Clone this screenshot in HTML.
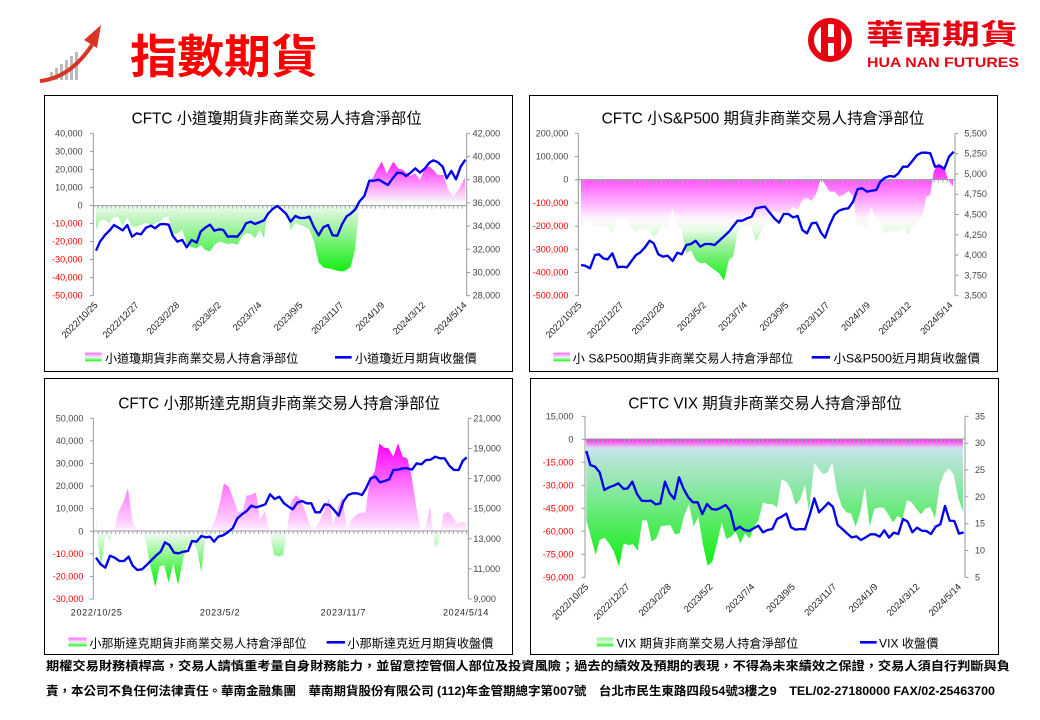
<!DOCTYPE html>
<html><head><meta charset="utf-8">
<style>
body{margin:0;background:#fff;width:1040px;height:720px;overflow:hidden;position:relative;font-family:"Liberation Sans","Noto Sans CJK TC",sans-serif}
.p{position:absolute;border:1px solid #000;box-sizing:border-box;background:#fff}
.ab{position:absolute}
</style></head><body>
<svg class="ab" style="left:0;top:0" width="1040" height="90">
 <g fill="#bbb">
  <rect x="50" y="72" width="3" height="8"/><rect x="55" y="68" width="3" height="12"/><rect x="60" y="64" width="3" height="16"/><rect x="65" y="60" width="3" height="20"/><rect x="70" y="56" width="3" height="24"/><rect x="75" y="52" width="3" height="28"/>
 </g>
 <path d="M40 81 Q70 78 92 45" stroke="#d9342a" stroke-width="4" fill="none"/>
 <polygon points="101,25 84,40 97,48" fill="#d9342a"/>
 <text x="130" y="73" font-size="46" font-weight="bold" fill="#f00" textLength="188" lengthAdjust="spacingAndGlyphs" font-family="'Noto Sans CJK TC',sans-serif">指數期貨</text>
 <circle cx="830" cy="40" r="19" fill="none" stroke="#e60012" stroke-width="6"/>
 <rect x="821" y="24" width="7" height="32" fill="#e60012"/><rect x="834" y="24" width="7" height="32" fill="#e60012"/><rect x="821" y="37" width="20" height="6" fill="#e60012"/>
 <text x="866" y="44" font-size="28" font-weight="bold" fill="#e60012" textLength="152" lengthAdjust="spacingAndGlyphs" font-family="'Noto Sans CJK TC',sans-serif">華南期貨</text>
 <text x="867" y="67" font-size="14" font-weight="bold" fill="#e60012" textLength="152" lengthAdjust="spacingAndGlyphs">HUA NAN FUTURES</text>
</svg>
<div class="p" style="left:44px;top:95px;width:469px;height:277px"></div>
<div class="p" style="left:529px;top:95px;width:469px;height:277px"></div>
<div class="p" style="left:44px;top:378px;width:469px;height:277px"></div>
<div class="p" style="left:530px;top:378px;width:469px;height:277px"></div>
<svg id="c1" class="ab" style="left:40px;top:90px" width="480" height="280" viewBox="0 0 1440 840"></svg>
<svg id="c2" class="ab" style="left:525px;top:90px" width="480" height="280" viewBox="0 0 1440 840"></svg>
<svg id="c3" class="ab" style="left:40px;top:375px" width="480" height="280" viewBox="0 0 1440 840"></svg>
<svg id="c4" class="ab" style="left:525px;top:375px" width="480" height="280" viewBox="0 0 1440 840"></svg>
<svg class="ab" style="left:0;top:655px" width="1040" height="60">
 <text x="46" y="15" font-size="12" font-weight="bold" fill="#000" textLength="964" lengthAdjust="spacingAndGlyphs" font-family="'Liberation Sans','Noto Sans CJK TC',sans-serif">期權交易財務槓桿高，交易人請慎重考量自身財務能力，並留意控管個人部位及投資風險；過去的績效及預期的表現，不得為未來績效之保證，交易人須自行判斷與負</text>
 <text x="46" y="40" font-size="12" font-weight="bold" fill="#000" textLength="949" lengthAdjust="spacingAndGlyphs" font-family="'Liberation Sans','Noto Sans CJK TC',sans-serif">責，本公司不負任何法律責任。華南金融集團　華南期貨股份有限公司 (112)年金管期總字第007號　台北市民生東路四段54號3樓之9　TEL/02-27180000 FAX/02-25463700</text>
</svg>
<script>
const NS="http://www.w3.org/2000/svg";
function el(s,tag,a,txt){const e=document.createElementNS(NS,tag);for(const k in a)e.setAttribute(k,a[k]);if(txt!==undefined)e.textContent=txt;s.appendChild(e);return e;}
function pts(a){let r=[];for(let i=0;i<a.length;i+=2)r.push(a[i]+","+a[i+1]);return r.join(" ");}
const FF="'Liberation Sans','Noto Sans CJK TC',sans-serif";
function chart(id,c){
 const s=document.getElementById(id);
 const d=el(s,"defs",{});
 const g=el(d,"linearGradient",{id:id+"g",x1:0,y1:0,x2:0,y2:1});
 c.stops.forEach(st=>el(g,"stop",{offset:st[0],"stop-color":st[1]}));
 g.setAttribute("gradientUnits","userSpaceOnUse");g.setAttribute("x1",0);g.setAttribute("x2",0);g.setAttribute("y1",c.g0);g.setAttribute("y2",c.g1);
 el(s,"text",{x:c.tx[0],y:100,"font-size":46,"font-family":FF,textLength:c.tx[1]-c.tx[0],lengthAdjust:"spacingAndGlyphs",fill:"#000"},c.title);
 const a=c.area;let poly=[a[0],c.z].concat(a).concat([a[a.length-2],c.z]);
 el(s,"polygon",{points:pts(poly),fill:"url(#"+id+"g)"});
 el(s,"line",{x1:c.L,y1:c.top,x2:c.L,y2:c.bot,stroke:"#999","stroke-width":3});
 el(s,"line",{x1:c.R,y1:c.top,x2:c.R,y2:c.bot,stroke:"#999","stroke-width":3});
 el(s,"line",{x1:c.L,y1:c.z,x2:c.R,y2:c.z,stroke:"#999","stroke-width":3});
 el(s,"line",{x1:c.L,y1:c.z+5,x2:c.R,y2:c.z+5,stroke:"#aaa","stroke-width":8,"stroke-dasharray":"3 10"});
 c.ly.forEach((v,i)=>{const y=c.top+(c.bot-c.top)*i/(c.ly.length-1);
  el(s,"line",{x1:c.L-10,y1:y,x2:c.L,y2:y,stroke:"#999","stroke-width":3});
  el(s,"text",{x:c.lx,y:y+9,"font-size":27,"text-anchor":"end","font-family":FF,fill:v[0]=="-"?"#f00":"#444"},v);});
 c.ry.forEach((v,i)=>{const y=c.top+(c.bot-c.top)*i/(c.ry.length-1);
  el(s,"line",{x1:c.R,y1:y,x2:c.R+10,y2:y,stroke:"#999","stroke-width":3});
  el(s,"text",{x:c.rx,y:y+9,"font-size":27,"font-family":FF,fill:"#444"},v);});
 if(c.horiz){c.dx.forEach((x,i)=>el(s,"text",{x:x,y:722,"font-size":27,"text-anchor":"middle","font-family":FF,fill:"#222","letter-spacing":2},c.dates[i]));}
 else c.dx.forEach((x,i)=>el(s,"text",{x:0,y:0,"font-size":28,"text-anchor":"end","font-family":FF,fill:"#222",transform:"translate("+x+","+(c.bot+30)+") rotate(-45)"},c.dates[i]));
 el(s,"polyline",{points:pts(c.line),fill:"none",stroke:"#0000ee","stroke-width":7,"stroke-linejoin":"round"});
 const lg=el(d,"linearGradient",{id:id+"lg",x1:0,y1:0,x2:0,y2:1});
 c.lstops.forEach(st=>el(lg,"stop",{offset:st[0],"stop-color":st[1]}));
 el(s,"rect",{x:c.leg[0],y:788,width:c.leg[1]-c.leg[0],height:26,fill:"url(#"+id+"lg)"});
 el(s,"text",{x:c.leg[2],y:818,"font-size":36,"font-family":FF,textLength:c.leg[3]-c.leg[2],lengthAdjust:"spacingAndGlyphs"},c.l1);
 el(s,"line",{x1:c.leg[4],y1:802,x2:c.leg[5],y2:802,stroke:"#0000ee","stroke-width":8});
 el(s,"text",{x:c.leg[6],y:818,"font-size":36,"font-family":FF,textLength:c.leg[7]-c.leg[6],lengthAdjust:"spacingAndGlyphs"},c.l2);
}
const D=["2022/10/25","2022/12/27","2023/2/28","2023/5/2","2023/7/4","2023/9/5","2023/11/7","2024/1/9","2024/3/12","2024/5/14"];
const LS=[[0,"#ff66ff"],[0.45,"#ffd8ff"],[0.55,"#d8ffd8"],[1,"#22ee22"]];
chart("c1",{title:"CFTC 小道瓊期貨非商業交易人持倉淨部位",tx:[275,1145],L:160,R:1280,top:130,bot:617,z:347,lx:128,rx:1298,
 ly:["40,000","30,000","20,000","10,000","0","-10,000","-20,000","-30,000","-40,000","-50,000"],
 ry:["42,000","40,000","38,000","36,000","34,000","32,000","30,000","28,000"],
 dx:[175,298,420,545,667,790,912,1035,1158,1282],dates:D,g0:215,g1:545,
 stops:[[0,"#ff22ff"],[0.25,"#ffb0ff"],[0.38,"#f5fff5"],[0.5,"#c8f5c8"],[1,"#11ee11"]],
 area:[168,420,180,392,195,390,208,400,222,380,235,382,248,408,262,382,276,410,290,410,303,405,318,398,333,408,345,400,360,395,372,382,386,383,398,432,412,430,427,418,440,462,455,472,470,474,482,465,496,480,510,484,523,465,538,455,550,458,563,462,578,460,592,465,606,440,618,430,632,432,645,445,660,418,672,445,685,355,700,340,712,340,724,325,738,360,752,420,766,398,780,405,794,410,808,418,822,455,836,518,850,532,864,535,878,538,892,542,906,545,920,540,932,530,945,480,958,350,973,320,990,280,1010,240,1025,215,1040,250,1060,215,1075,235,1090,240,1110,258,1125,250,1140,270,1155,232,1168,230,1180,240,1194,255,1210,255,1225,300,1240,318,1255,300,1275,262],
 line:[168,482,180,455,195,435,210,420,222,405,235,413,248,421,262,405,276,440,290,430,303,433,318,413,333,407,345,415,360,403,372,402,386,404,398,437,412,455,427,450,440,472,455,450,470,458,482,425,496,413,510,404,523,422,538,418,550,420,563,440,578,439,592,440,606,423,618,400,632,395,645,402,660,396,672,391,685,370,700,355,712,348,724,358,738,371,752,395,766,378,780,384,794,384,808,380,822,412,836,436,850,412,864,405,878,436,892,437,906,403,920,379,932,371,946,358,958,335,973,318,988,272,1002,272,1016,269,1030,277,1044,285,1058,265,1072,248,1086,249,1098,258,1112,248,1126,235,1140,248,1154,236,1168,218,1180,211,1194,217,1208,230,1220,265,1234,243,1248,268,1262,230,1276,209],
 lstops:LS,leg:[135,185,195,775,885,935,945,1310],l1:"小道瓊期貨非商業交易人持倉淨部位",l2:"小道瓊近月期貨收盤價"});
chart("c2",{title:"CFTC 小S&P500 期貨非商業交易人持倉淨部位",tx:[230,1198],L:160,R:1290,top:130,bot:617,z:269,lx:130,rx:1318,
 ly:["200,000","100,000","0","-100,000","-200,000","-300,000","-400,000","-500,000"],
 ry:["5,500","5,250","5,000","4,750","4,500","4,250","4,000","3,750","3,500"],
 dx:[172,297,420,545,668,792,914,1037,1160,1285],dates:D,g0:230,g1:575,
 stops:[[0,"#ff22ff"],[0.3,"#ffaaff"],[0.45,"#fff6ff"],[0.55,"#e8fce8"],[0.68,"#a0f0a0"],[1,"#11ee11"]],
 area:[168,420,180,393,195,393,210,410,222,405,235,410,248,410,262,430,278,383,290,390,306,388,320,418,333,425,345,417,360,420,374,422,386,440,400,428,414,400,428,415,443,355,457,405,470,420,484,490,498,480,512,510,526,520,540,518,555,530,569,540,583,550,597,572,612,510,625,498,638,425,652,410,666,410,680,410,692,455,706,430,720,410,734,370,748,365,762,370,776,370,790,370,804,350,818,360,832,330,846,323,860,333,874,310,888,265,900,282,914,305,928,305,942,320,956,315,970,303,984,318,996,405,1010,405,1024,415,1038,350,1052,385,1066,400,1080,430,1094,420,1108,425,1122,422,1136,410,1150,435,1164,410,1178,395,1192,380,1204,320,1216,315,1226,245,1240,220,1256,230,1270,270,1284,290],
 line:[168,525,180,527,195,535,210,495,222,493,235,505,248,508,262,490,278,532,292,530,306,532,318,515,333,495,345,488,360,472,374,452,386,460,400,493,414,500,428,497,443,513,457,488,470,493,484,465,498,462,512,452,526,470,540,462,555,462,569,465,583,452,598,438,612,425,625,408,638,392,652,392,666,385,680,380,692,355,706,352,720,350,734,368,748,385,762,398,776,372,790,372,804,382,818,378,832,420,846,430,860,400,874,398,888,428,900,443,914,405,928,375,942,362,956,357,970,355,984,335,998,297,1012,295,1026,305,1040,302,1054,300,1066,275,1080,263,1094,258,1108,260,1120,250,1134,230,1148,230,1162,213,1176,195,1190,188,1204,188,1216,190,1230,230,1244,228,1258,237,1272,200,1286,185],
 lstops:LS,leg:[85,135,143,805,860,915,925,1365],l1:"小 S&P500期貨非商業交易人持倉淨部位",l2:"小S&P500近月期貨收盤價"});
chart("c3",{title:"CFTC 小那斯達克期貨非商業交易人持倉淨部位",tx:[235,1200],L:160,R:1285,top:130,bot:672,z:468,lx:130,rx:1300,horiz:true,
 ly:["50,000","40,000","30,000","20,000","10,000","0","-10,000","-20,000","-30,000"],
 ry:["21,000","19,000","17,000","15,000","13,000","11,000","9,000"],
 dx:[170,540,910,1278],dates:["2022/10/25","2023/5/2","2023/11/7","2024/5/14"],g0:205,g1:635,
 stops:[[0,"#ff00ff"],[0.3,"#ff77ff"],[0.55,"#ffd0ff"],[0.61,"#fff4ff"],[0.66,"#ddfadd"],[1,"#00ee00"]],
 area:[168,432,176,520,184,570,196,482,208,500,222,465,236,410,250,380,264,340,278,440,292,462,305,460,318,502,330,570,346,635,358,575,372,570,386,622,400,565,414,630,428,560,440,512,456,500,470,520,484,590,496,490,510,465,524,440,538,390,552,325,566,335,580,372,594,410,608,410,620,362,634,360,648,352,660,435,674,408,688,470,702,540,716,545,730,540,740,470,754,380,768,360,782,375,796,410,810,450,824,465,838,440,852,410,866,370,880,450,894,395,908,365,920,465,934,435,948,420,962,413,976,413,990,310,1004,290,1018,205,1032,218,1046,220,1060,245,1074,205,1088,245,1102,250,1114,300,1128,390,1142,465,1156,458,1170,395,1184,516,1196,505,1210,418,1224,410,1238,425,1252,448,1266,440,1278,445],
 line:[168,548,182,568,196,578,210,542,224,548,238,558,252,558,266,545,278,572,292,585,306,583,320,570,334,556,348,542,362,530,375,502,388,510,402,533,416,535,430,530,444,528,456,498,470,500,484,483,498,487,510,485,522,500,535,485,549,481,563,472,578,460,592,430,606,418,620,408,634,392,648,397,662,393,676,388,690,358,704,372,718,365,732,385,746,395,758,403,772,383,786,378,800,385,814,385,826,412,840,412,854,388,868,390,882,405,896,422,910,380,924,360,938,355,952,355,966,360,978,340,992,310,1006,305,1020,322,1034,318,1048,313,1060,285,1074,284,1088,280,1102,280,1116,284,1130,265,1144,268,1158,255,1172,254,1186,245,1200,250,1214,250,1228,272,1242,285,1256,285,1268,258,1280,247],
 lstops:LS,leg:[85,140,148,800,860,915,922,1360],l1:"小那斯達克期貨非商業交易人持倉淨部位",l2:"小那斯達克近月期貨收盤價"});
chart("c4",{title:"CFTC VIX 期貨非商業交易人持倉淨部位",tx:[310,1130],L:180,R:1320,top:124,bot:607,z:192,lx:145,rx:1350,
 ly:["15,000","0","-15,000","-30,000","-45,000","-60,000","-75,000","-90,000"],
 ry:["35","30","25","20","15","10","5"],
 dx:[192,316,440,565,690,812,936,1060,1185,1310],dates:D,g0:192,g1:575,
 stops:[[0,"#ee22ee"],[0.05,"#f0a0f0"],[0.07,"#c8e4f0"],[0.15,"#b8e4d8"],[0.4,"#88e8a0"],[1,"#11ee11"]],
 area:[184,435,196,480,212,540,224,495,238,488,252,505,266,528,282,575,296,505,310,510,324,508,338,527,352,435,366,437,380,500,394,490,408,453,422,452,436,450,450,478,464,475,478,420,492,388,506,455,520,425,534,510,548,572,562,560,576,505,590,443,604,492,618,485,632,470,646,505,660,475,674,490,688,455,700,437,714,382,728,387,742,387,756,397,770,313,784,320,798,343,812,390,826,372,840,330,852,410,868,263,880,280,894,297,908,293,922,262,936,350,950,393,964,412,978,415,992,455,1006,412,1020,335,1034,455,1048,402,1062,398,1076,398,1090,418,1104,442,1118,423,1132,432,1146,375,1160,382,1174,402,1188,418,1202,400,1216,397,1230,430,1244,330,1258,295,1272,280,1286,298,1300,370,1314,410],
 line:[184,228,196,270,210,275,224,292,238,345,252,337,266,332,280,325,296,342,308,340,322,320,336,357,350,377,364,378,378,377,392,388,406,385,420,320,434,355,448,372,462,307,476,342,490,367,504,382,518,382,532,417,546,387,560,402,574,404,588,398,602,390,616,408,630,465,644,455,658,465,672,468,686,460,700,452,714,472,728,465,742,462,756,432,770,425,784,416,798,457,812,464,826,462,840,463,854,420,868,370,882,412,896,398,910,383,924,396,938,450,952,462,966,475,980,487,994,484,1008,495,1022,487,1036,478,1050,478,1064,485,1078,466,1092,488,1106,473,1120,477,1134,432,1148,440,1162,472,1176,458,1190,467,1204,468,1218,477,1232,455,1246,448,1260,393,1274,437,1288,438,1302,476,1316,472],
 lstops:[[0,"#88ee88"],[0.5,"#ddffdd"],[1,"#22ee22"]],leg:[215,265,275,820,1005,1055,1062,1240],l1:"VIX 期貨非商業交易人持倉淨部位",l2:"VIX 收盤價"});
</script>
</body></html>
